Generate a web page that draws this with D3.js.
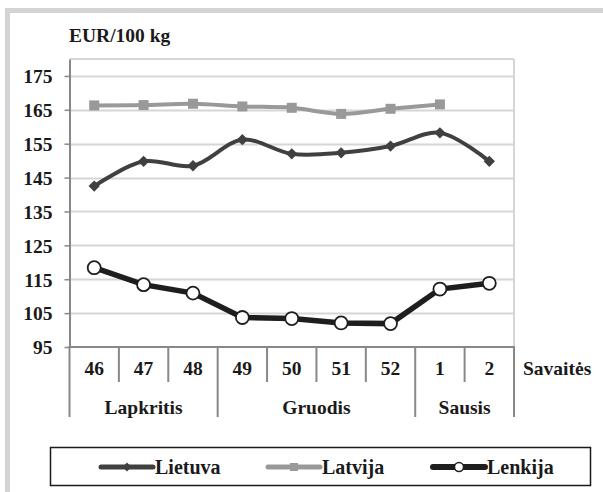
<!DOCTYPE html>
<html><head><meta charset="utf-8">
<script src="https://cdn.jsdelivr.net/npm/d3@7"></script>
<style>body{margin:0;background:#fff}svg{display:block}</style>
</head><body><svg id="c" width="603" height="492" style="font-family:'Liberation Serif','Tinos','DejaVu Serif',serif;font-weight:bold"></svg>
<script>
const weeks = ["46","47","48","49","50","51","52","1","2"];
const months = [{name:"Lapkritis", from:0, to:3},{name:"Gruodis", from:3, to:7},{name:"Sausis", from:7, to:9}];
const lietuva = [142.5,149.8,148.5,156.2,152.0,152.3,154.3,158.2,149.8];
const latvija = [166.3,166.4,166.8,166.0,165.6,163.8,165.3,166.6];
const lenkija = [118.4,113.4,110.9,103.7,103.4,102.1,101.9,112.1,113.8];
const yTicks = [95,105,115,125,135,145,155,165,175];

const FONT = "'Liberation Serif','Tinos','DejaVu Serif',serif";
const FS = "19.5px";
const svg = d3.select("#c");
// outer frame
svg.append("rect").attr("x",7.5).attr("y",10.5).attr("width",610).attr("height",500)
  .attr("fill","none").attr("stroke","#d4d4d4").attr("stroke-width",5);

const L=69.5, R=514, T=59, B=347;
const x = d3.scaleBand().domain(weeks).range([L,R]);
const y = d3.scaleLinear().domain([95,180]).range([B,T]);

function txt(sel){ return sel.attr("font-family",FONT).attr("font-weight","bold").attr("fill","#1a1a1a"); }

// grid
svg.append("g").selectAll("line").data(yTicks.slice(1)).join("line")
  .attr("x1",L).attr("x2",R).attr("y1",d=>Math.round(y(d))+0.5).attr("y2",d=>Math.round(y(d))+0.5)
  .attr("stroke","#d6d6d6").attr("stroke-width",2);
svg.append("line").attr("x1",L).attr("x2",R).attr("y1",T).attr("y2",T).attr("stroke","#d6d6d6").attr("stroke-width",2);
svg.append("line").attr("x1",R).attr("x2",R).attr("y1",T).attr("y2",B).attr("stroke","#d6d6d6").attr("stroke-width",2);

// y axis
const ya = svg.append("g").attr("transform",`translate(${L},0)`).call(d3.axisLeft(y).tickValues(yTicks).tickSize(5).tickSizeOuter(0).tickPadding(12));
ya.attr("font-family",FONT).attr("font-size",FS);
ya.select(".domain").attr("stroke","#888").attr("stroke-width",2);
ya.selectAll(".tick line").attr("stroke","#888").attr("stroke-width",1.5);
txt(ya.selectAll(".tick text")).attr("font-size",FS).attr("dy","0.35em");

// x axis baseline
svg.append("line").attr("x1",L-1).attr("x2",R+1).attr("y1",B).attr("y2",B).attr("stroke","#888").attr("stroke-width",2);
// category ticks
const bounds = d3.range(weeks.length+1);
const monthEdges = new Set(months.flatMap(m=>[m.from,m.to]));
svg.append("g").selectAll("line").data(bounds).join("line")
  .attr("x1",i=>L+i*x.bandwidth()).attr("x2",i=>L+i*x.bandwidth())
  .attr("y1",B).attr("y2",i=>monthEdges.has(i)?417:382)
  .attr("stroke","#888").attr("stroke-width",2);
txt(svg.append("g").selectAll("text").data(weeks).join("text")
  .attr("x",d=>x(d)+x.bandwidth()/2).attr("y",375).attr("text-anchor","middle").attr("font-size",FS).text(d=>d));
txt(svg.append("g").selectAll("text").data(months).join("text")
  .attr("x",m=>L+(m.from+m.to)/2*x.bandwidth()).attr("y",414).attr("text-anchor","middle").attr("font-size",FS).text(m=>m.name));
txt(svg.append("text").attr("x",523).attr("y",375).attr("font-size",FS).text("Savaitės"));
txt(svg.append("text").attr("x",69).attr("y",41.5).attr("font-size",FS).text("EUR/100 kg"));

const cx = i=>x(weeks[i])+x.bandwidth()/2;
const smooth = d3.line().x((d,i)=>cx(i)).y(d=>y(d)).curve(d3.curveCatmullRom.alpha(0.5));
const straight = d3.line().x((d,i)=>cx(i)).y(d=>y(d));

// Latvija
svg.append("path").attr("d",smooth(latvija)).attr("fill","none").attr("stroke","#999").attr("stroke-width",4);
svg.append("g").selectAll("rect").data(latvija).join("rect")
  .attr("x",(d,i)=>cx(i)-5).attr("y",d=>y(d)-5).attr("width",10).attr("height",10).attr("fill","#999");
// Lietuva
svg.append("path").attr("d",smooth(lietuva)).attr("fill","none").attr("stroke","#404040").attr("stroke-width",4);
svg.append("g").selectAll("path").data(lietuva).join("path")
  .attr("d",d3.symbol(d3.symbolSquare,64)).attr("transform",(d,i)=>`translate(${cx(i)},${y(d)}) rotate(45)`).attr("fill","#404040");
// Lenkija
svg.append("path").attr("d",straight(lenkija)).attr("fill","none").attr("stroke","#1e1e1e").attr("stroke-width",5.5);
svg.append("g").selectAll("circle").data(lenkija).join("circle")
  .attr("cx",(d,i)=>cx(i)).attr("cy",d=>y(d)).attr("r",6.5).attr("fill","#fff").attr("stroke","#1e1e1e").attr("stroke-width",1.8);

// legend
svg.append("rect").attr("x",50.5).attr("y",447.5).attr("width",540).attr("height",38).attr("fill","#fff").attr("stroke","#1a1a1a").attr("stroke-width",1.5);
const leg = [
  {name:"Lietuva", x:101, color:"#404040", w:5, m:"diamond"},
  {name:"Latvija", x:268, color:"#999", w:5, m:"square"},
  {name:"Lenkija", x:433, color:"#1e1e1e", w:6, m:"circle"}
];
const lg = svg.append("g").selectAll("g").data(leg).join("g").attr("transform",d=>`translate(${d.x},467)`);
lg.append("line").attr("x1",0).attr("x2",52).attr("stroke",d=>d.color).attr("stroke-width",d=>d.w).attr("stroke-linecap","round");
lg.filter(d=>d.m==="diamond").append("path").attr("d",d3.symbol(d3.symbolSquare,40)).attr("transform","translate(26,0) rotate(45)").attr("fill","#404040");
lg.filter(d=>d.m==="square").append("rect").attr("x",22).attr("y",-4).attr("width",8).attr("height",8).attr("fill","#999");
lg.filter(d=>d.m==="circle").append("circle").attr("cx",26).attr("r",4.5).attr("fill","#fff").attr("stroke","#1e1e1e").attr("stroke-width",1.5);
txt(lg.append("text").attr("x",54).attr("y",7).attr("font-size","20px").text(d=>d.name));
</script></body></html>
